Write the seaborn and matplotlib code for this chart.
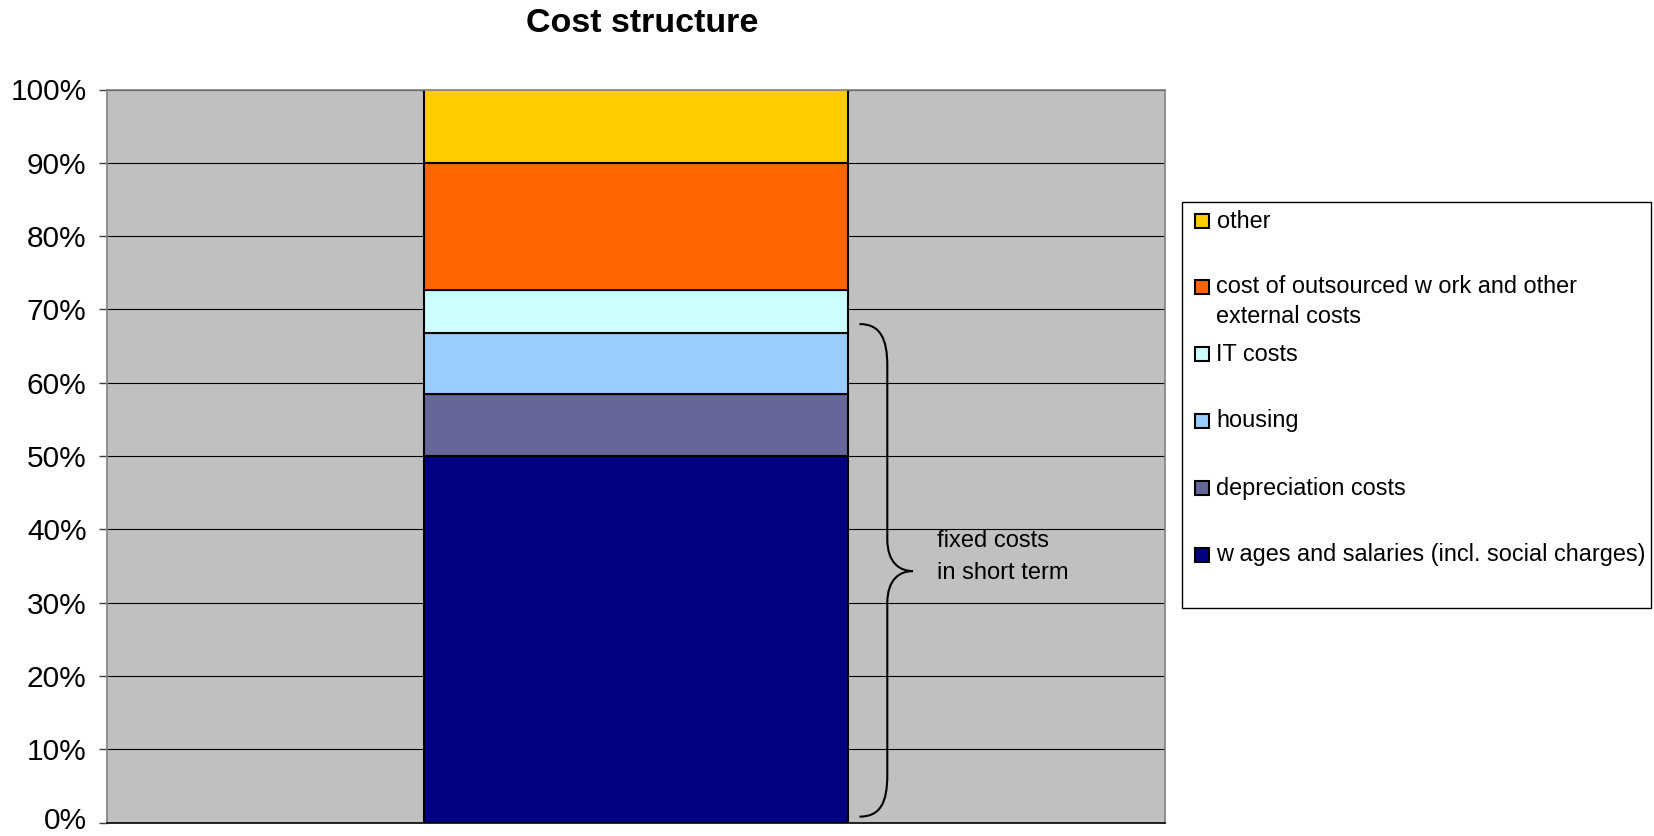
import matplotlib
matplotlib.use("Agg")
import matplotlib.pyplot as plt
import matplotlib.transforms as mtransforms
from matplotlib.path import Path
from matplotlib.patches import PathPatch, Rectangle
import seaborn as sns
import pandas as pd

# ---- data ----
category = ["Cost structure"]
series_labels = [
    "wages and salaries (incl. social charges)",
    "depreciation costs",
    "housing",
    "IT costs",
    "cost of outsourced work and other external costs",
    "other",
]
legend_labels = [
    "w ages and salaries (incl. social charges)",
    "depreciation costs",
    "housing",
    "IT costs",
    "cost of outsourced w ork and other\nexternal costs",
    "other",
]
values = [50.0, 8.4, 8.4, 5.9, 17.3, 10.0]
colors = ["#000080", "#666699", "#99CCFF", "#CCFFFF", "#FF6600", "#FFCC00"]
ytick_values = [0, 10, 20, 30, 40, 50, 60, 70, 80, 90, 100]
ytick_labels = [f"{v}%" for v in ytick_values]
title = "Cost structure"
annotation = "fixed costs\nin short term"

sns.set_style("white")
plt.rcParams["font.family"] = ["Liberation Sans", "DejaVu Sans"]
plt.rcParams["text.color"] = "black"
plt.rcParams["ytick.color"] = "black"
plt.rcParams["xtick.color"] = "black"
plt.rcParams["axes.labelcolor"] = "black"

W, H = 1654, 836
fig = plt.figure(figsize=(W / 100, H / 100), dpi=100)
ax_bottom = 822.5
ax_top = 89.5
ax = fig.add_axes([106.7 / W, 1 - ax_bottom / H, (1165 - 106.7) / W, (ax_bottom - ax_top) / H])
ax.set_facecolor("#C0C0C0")

# grid lines behind bars
for v in ytick_values:
    ax.axhline(v, color="black", lw=0.8, zorder=0.5)

bottom = 0.0
for lab, val, col in zip(series_labels, values, colors):
    df = pd.DataFrame({"cat": category, "value": [val]})
    sns.barplot(data=df, x="cat", y="value", ax=ax, color=col, width=0.4,
                bottom=bottom, edgecolor="black", linewidth=1.5,
                errorbar=None, saturation=1, zorder=2)
    bottom += val

ax.set_xlim(-0.5, 0.5)
ax.set_ylim(0, 100)
ax.set_yticks(ytick_values)
ax.set_yticklabels(ytick_labels, fontsize=21.5, color="black")
ax.set_xticks([])
ax.set_xlabel("")
ax.set_ylabel("")
ax.tick_params(axis="y", which="both", left=True, length=6, width=1,
               color="#404040", labelcolor="black", pad=8.5, direction="out")
for s in ["left", "right", "top", "bottom"]:
    ax.spines[s].set_visible(True)
    ax.spines[s].set_color("#808080")
    ax.spines[s].set_linewidth(1.2)
ax.spines["bottom"].set_color("black")

# keep the lowest tick label fully inside the canvas
t0 = ax.yaxis.get_major_ticks()[0]
t0.label1.set_transform(t0.label1.get_transform() +
                        mtransforms.ScaledTranslation(0, 3.5 / 72, fig.dpi_scale_trans))

# curly brace for fixed costs (wages + depreciation + housing)
x0, x1, x2 = 0.2113, 0.2376, 0.2619
verts = [
    (x0, 68.0), (0.231, 68.0), (x1, 66.0), (x1, 62.3),
    (x1, 38.7),
    (x1, 35.3), (0.250, 34.3), (x2, 34.3),
    (0.250, 34.3), (x1, 33.3), (x1, 29.9),
    (x1, 6.5),
    (x1, 2.7), (0.231, 0.8), (x0, 0.8),
]
codes = [Path.MOVETO, Path.CURVE4, Path.CURVE4, Path.CURVE4,
         Path.LINETO,
         Path.CURVE4, Path.CURVE4, Path.CURVE4,
         Path.CURVE4, Path.CURVE4, Path.CURVE4,
         Path.LINETO,
         Path.CURVE4, Path.CURVE4, Path.CURVE4]
ax.add_patch(PathPatch(Path(verts, codes), fill=False, lw=1.5,
                       edgecolor="black", zorder=3, clip_on=False))
ax.text(0.285, 36.2, annotation, ha="left", va="center", fontsize=17,
        linespacing=1.59, zorder=4, color="black")

fig.text(641.7 / W, 1 - 23 / H, title, ha="center", va="center",
         fontsize=24.5, fontweight="bold", color="black")

# legend panel (pixel-coordinate overlay)
lax = fig.add_axes([0, 0, 1, 1], zorder=5)
lax.set_xlim(0, W)
lax.set_ylim(H, 0)
lax.axis("off")
lax.add_patch(Rectangle((1181.5, 202), 1651 - 1181.5, 607.5 - 202,
                        facecolor="white", edgecolor="black", lw=1.0))
row_y = [555, 488.3, 420.7, 354.3, 301.5, 221]
for lab, col, y in zip(legend_labels, colors, row_y):
    ym = y - 14.8 if "\n" in lab else y
    lax.add_patch(Rectangle((1194.5, ym - 7), 14, 14, facecolor=col,
                            edgecolor="black", lw=1.5))
    lax.text(1216.5, y, lab, ha="left", va="center", fontsize=16.9,
             linespacing=1.42, color="black")

fig.savefig("out.png", dpi=100)
